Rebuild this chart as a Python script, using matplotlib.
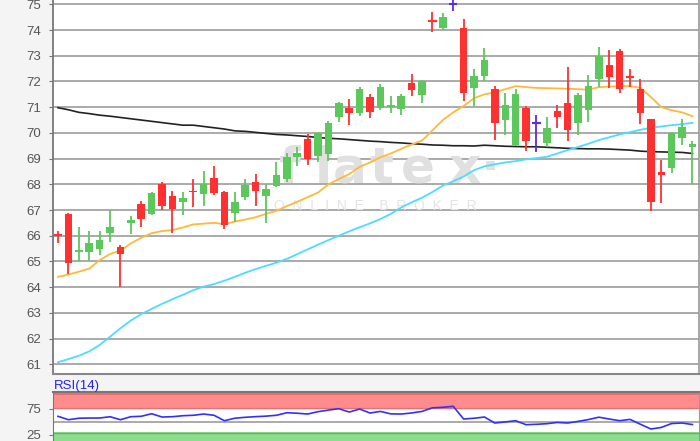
import matplotlib
matplotlib.use('Agg')
import matplotlib.pyplot as plt
import numpy as np

# candle data (one entry per session)
opens = [66.01, 66.85, 65.35, 65.35, 65.5, 66.1, 65.55, 66.48, 67.25, 66.85,
         68.0, 67.55, 67.3, 67.75, 67.62, 68.25, 67.7, 66.9, 67.52, 68.1,
         67.55, 67.95, 68.2, 69.05, 69.75, 69.1, 69.18, 70.6, 70.95, 70.78,
         71.4, 70.95, 71.0, 70.92, 71.95, 71.47, 74.37, 74.07, 75.0, 74.1,
         71.76, 72.21, 71.7, 70.5, 69.53, 70.95, 70.37, 69.6, 70.86, 71.17,
         70.4, 70.89, 72.08, 72.64, 73.2, 72.17, 71.69, 70.53, 68.49, 68.62,
         69.79, 69.44]
highs = [66.2, 66.9, 66.35, 66.2, 66.2, 67.0, 65.65, 66.75, 67.35, 67.7,
         68.1, 67.75, 67.7, 68.2, 68.5, 68.7, 67.75, 67.7, 68.2, 68.4,
         68.0, 68.85, 69.2, 69.45, 69.95, 70.05, 70.45, 71.2, 71.33, 71.77,
         71.5, 71.9, 71.43, 71.5, 72.3, 72.05, 74.7, 74.65, 75.3, 74.42,
         72.48, 73.3, 71.82, 71.55, 71.7, 71.04, 70.7, 70.63, 71.08, 72.57,
         71.55, 72.25, 73.35, 73.24, 73.25, 72.48, 72.08, 70.56, 68.96, 70.05,
         70.56, 69.7]
lows = [65.7, 64.5, 65.0, 65.0, 65.25, 65.75, 64.0, 66.05, 66.35, 66.8,
        67.0, 66.1, 66.8, 67.1, 67.15, 67.6, 66.25, 66.55, 67.4, 67.15,
        66.5, 67.9, 68.1, 68.7, 68.75, 68.85, 68.9, 70.43, 70.3, 70.65,
        70.57, 70.88, 70.76, 70.7, 71.45, 71.15, 73.93, 74.0, 74.75, 71.25,
        71.04, 72.0, 69.72, 69.92, 69.5, 69.3, 69.27, 69.44, 70.18, 69.7,
        69.92, 70.43, 71.77, 71.73, 71.54, 71.77, 70.34, 66.97, 67.26, 68.45,
        69.53, 68.03]
closes = [65.99, 64.95, 65.45, 65.7, 65.85, 66.35, 65.3, 66.6, 66.65, 67.65,
          67.15, 67.05, 67.45, 67.69, 68.0, 67.67, 66.4, 67.3, 67.96, 67.75,
          67.8, 68.35, 69.07, 69.2, 69.0, 70.0, 70.37, 71.17, 70.76, 71.69,
          70.8, 71.8, 71.08, 71.43, 71.67, 72.0, 74.33, 74.52, 75.0, 71.56,
          72.22, 72.83, 70.4, 71.07, 71.53, 69.7, 70.37, 70.18, 70.6, 70.11,
          71.47, 71.82, 73.0, 72.16, 71.69, 72.13, 70.78, 67.32, 68.36, 69.98,
          70.21, 69.55]

# moving averages
ma_short = [64.4, 64.49, 64.6, 64.72, 65.05, 65.29, 65.42, 65.7, 65.92, 66.1,
            66.18, 66.22, 66.32, 66.44, 66.47, 66.5, 66.45, 66.55, 66.63, 66.72,
            66.85, 66.97, 67.15, 67.32, 67.5, 67.68, 68.0, 68.2, 68.4, 68.68,
            68.85, 69.05, 69.2, 69.38, 69.55, 69.7, 70.1, 70.5, 70.8, 71.05,
            71.35, 71.5, 71.58, 71.7, 71.82, 71.78, 71.75, 71.74, 71.73, 71.72,
            71.7, 71.68, 71.78, 71.8, 71.82, 71.82, 71.75, 71.4, 71.0, 70.88,
            70.8, 70.65]
ma_mid = [61.08, 61.2, 61.33, 61.5, 61.75, 62.07, 62.4, 62.7, 62.95, 63.15,
          63.35, 63.53, 63.7, 63.88, 64.02, 64.12, 64.25, 64.4, 64.56, 64.7,
          64.83, 64.95, 65.1, 65.28, 65.47, 65.65, 65.83, 66.0, 66.17, 66.33,
          66.48, 66.65, 66.85, 67.1, 67.3, 67.48, 67.7, 67.95, 68.12, 68.3,
          68.55, 68.7, 68.78, 68.85, 68.9, 68.97, 69.02, 69.07, 69.2, 69.33,
          69.45, 69.58, 69.72, 69.83, 69.94, 70.03, 70.12, 70.2, 70.25, 70.3,
          70.34, 70.39]
ma_long = [70.98, 70.9, 70.8, 70.75, 70.69, 70.65, 70.6, 70.55, 70.5, 70.45,
           70.4, 70.35, 70.3, 70.3, 70.25, 70.2, 70.15, 70.08, 70.06, 70.02,
           69.98, 69.94, 69.92, 69.89, 69.86, 69.82, 69.79, 69.77, 69.74, 69.71,
           69.68, 69.66, 69.63, 69.61, 69.58, 69.56, 69.53, 69.52, 69.5, 69.5,
           69.49, 69.52, 69.5, 69.48, 69.47, 69.46, 69.46, 69.44, 69.42, 69.4,
           69.39, 69.38, 69.38, 69.37, 69.35, 69.33, 69.29, 69.27, 69.26, 69.25,
           69.24, 69.2]

# RSI(14)
rsi = [60.2, 53.7, 56.5, 56.9, 56.9, 59.4, 53.7, 59.4, 60.2, 65.1,
       58.8, 59.4, 61.3, 62.1, 64.5, 62.1, 51.8, 56.5, 58.3, 59.5,
       60.5, 62.1, 67.0, 66.0, 64.5, 69.0, 72.0, 74.6, 68.3, 74.0,
       66.4, 69.5, 64.8, 64.5, 66.5, 69.5, 76.3, 77.3, 79.2, 55.0,
       56.5, 58.8, 47.4, 49.5, 51.8, 44.2, 45.0, 46.1, 48.5, 47.4,
       50.5, 54.0, 58.5, 55.0, 51.8, 54.3, 45.0, 36.0, 39.0, 46.5,
       47.4, 44.5]

price_ticks = list(range(61, 76))
rsi_ticks = [25, 75]

plt.rcParams['font.family'] = ['Liberation Sans', 'DejaVu Sans']

fig = plt.figure(figsize=(7, 4.41), dpi=100)
fig.patch.set_facecolor('#f4f4f4')

ax = fig.add_axes([0.075, 0.1519, 0.9236, 0.8481])
ax.set_facecolor('white')

x = np.arange(len(opens))
o = np.array(opens)
c = np.array(closes)
h = np.array(highs)
l = np.array(lows)

green = '#5cc85c'
red = '#ff3030'
purple = '#5a2be0'
cols = np.where(c > o, green, np.where(c < o, red, purple))

# gridlines
for t in price_ticks:
    ax.axhline(t, color='#aaaaaa', lw=1.4, zorder=0)

# watermark (behind the candles)
wm_color = '#e0e0e0'
for ch, px in zip(['f', 'l', 'a', 't', 'e', 'x', '·'],
                  [290, 323, 350, 381, 418, 464, 490]):
    ax.text(px / 700, 1 - 183 / 441, ch, transform=fig.transFigure, fontsize=36,
            fontweight='bold', family='DejaVu Sans', color=wm_color,
            ha='center', va='baseline', zorder=0.5)
ax.text(375 / 700, 1 - 206 / 441, 'O  N  L  I  N  E    B  R  O  K  E  R',
        transform=fig.transFigure, fontsize=10, color='#e4e4e4',
        ha='center', va='center', zorder=0.5)

# moving averages
ax.plot(x, ma_long, color='#222222', lw=1.2, zorder=2)
ax.plot(x, ma_mid, color='#4ddcff', lw=1.3, zorder=2)
ax.plot(x, ma_short, color='#ffb938', lw=1.3, zorder=2)

# candles
ax.vlines(x, l, h, colors=cols, lw=1.3, zorder=3)
body = np.abs(c - o) >= 0.05
ax.bar(x[body], (c - o)[body], bottom=o[body], width=0.72, color=cols[body], zorder=4)
doji = ~body
ax.hlines(o[doji], x[doji] - 0.4, x[doji] + 0.4, colors=cols[doji], lw=1.5, zorder=4)

ax.set_xlim(-0.53, 61.63)
ax.set_ylim(60.62, 75.17)
ax.set_yticks(price_ticks)
ax.set_xticks([])
ax.tick_params(axis='y', labelsize=9.5, labelcolor='#555555', color='#777777',
               length=3, pad=5)
ax.spines['top'].set_visible(False)
ax.spines['left'].set_color('#777777')
ax.spines['left'].set_linewidth(1.3)
ax.spines['bottom'].set_color('#888888')
ax.spines['bottom'].set_linewidth(1.5)
ax.spines['right'].set_color('#999999')
ax.spines['right'].set_linewidth(1.2)

# RSI panel
ax2 = fig.add_axes([0.075, 0.0, 0.9236, 0.1111])
ax2.set_facecolor('white')
ax2.set_xlim(-0.53, 61.63)
ax2.set_ylim(13.2, 106.4)
ax2.axhspan(75, 106.4, color='#ff8c8c', lw=0, zorder=0)
ax2.axhspan(100, 106.4, color='#e87070', lw=0, zorder=0)
ax2.axhline(76, color='#e87070', lw=1.0, zorder=0.5)
ax2.axhspan(13.2, 30, color='#8fdc8f', lw=0, zorder=0)
ax2.axhline(29, color='#5cb85c', lw=1.0, zorder=0.5)
ax2.axhline(50, color='#aaaaaa', lw=1.4, zorder=0.5)
ax2.plot(x, rsi, color='#3030ff', lw=1.2, zorder=2)
ax2.set_yticks(rsi_ticks)
ax2.set_xticks([])
ax2.tick_params(axis='y', labelsize=9.5, labelcolor='#555555', color='#777777',
                length=3, pad=5)
ax2.spines['top'].set_color('#777777')
ax2.spines['top'].set_linewidth(1.5)
ax2.spines['left'].set_color('#777777')
ax2.spines['right'].set_color('#999999')
ax2.spines['bottom'].set_visible(False)
fig.text(54 / 700, 1 - 386 / 441, 'RSI(14)', fontsize=9.5, color='#2020ff',
         ha='left', va='center')

fig.savefig('out.png', dpi=100, facecolor=fig.get_facecolor())
